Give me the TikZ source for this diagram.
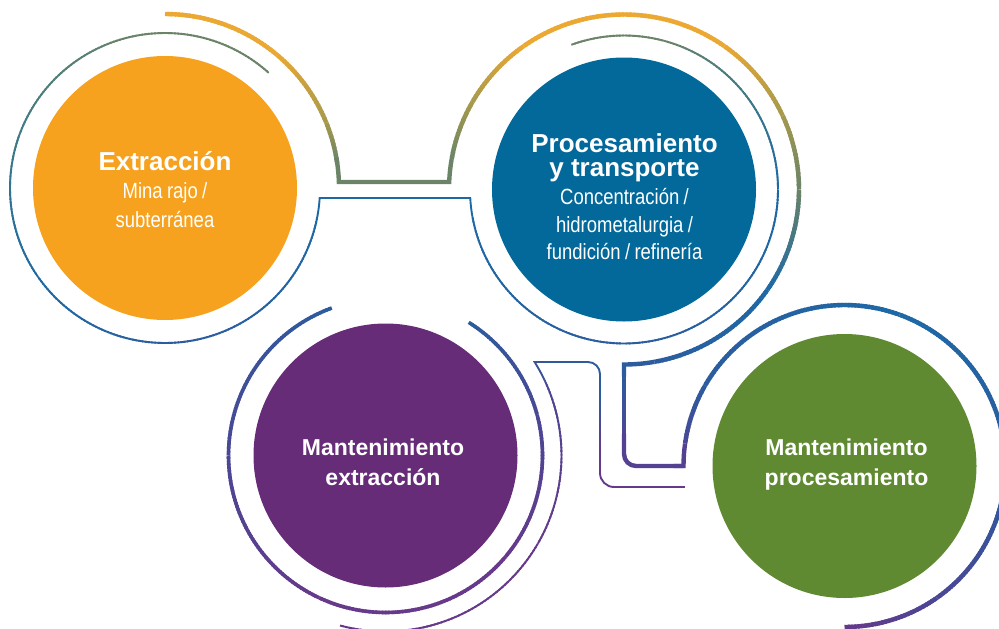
\documentclass[tikz,border=0pt]{standalone}
\usepackage{fontspec}
\setmainfont{Liberation Sans}
\newfontfamily\condfont[FakeStretch=0.84,WordSpace=0.85]{Liberation Sans}
\usetikzlibrary{calc}
\definecolor{cOrange}{HTML}{F6A21E}
\definecolor{cBlue}{HTML}{02699A}
\definecolor{cPurple}{HTML}{672C77}
\definecolor{cGreen}{HTML}{608A32}
\definecolor{lGold}{HTML}{EBA833}
\definecolor{lOlive}{HTML}{A69A4C}
\definecolor{lGrey}{HTML}{6B8467}
\definecolor{lTeal}{HTML}{3F7A85}
\definecolor{lBlue}{HTML}{1D69A6}
\definecolor{lDark}{HTML}{2C5C9E}
\definecolor{lBP}{HTML}{4A4795}
\definecolor{lPur}{HTML}{66398A}
% gradient arc: center, radius, start, end, colour1, colour2, width
\newcommand\garc[7]{%
  \pgfmathtruncatemacro\gN{max(2,abs((#4)-(#3))/1.2)}%
  \pgfmathsetmacro\gS{((#4)-(#3))/\gN}%
  \foreach \k in {1,...,\gN}{%
    \pgfmathsetmacro\ga{(#3)+(\gS)*(\k-1)-(\k>1)*0.5*(\gS)}%
    \pgfmathsetmacro\gb{(#3)+(\gS)*\k}%
    \pgfmathtruncatemacro\gp{100*(\k-0.5)/\gN}%
    \draw[line width=#7, color=#6!\gp!#5] ($(#1)+(\ga:#2pt)$) arc[start angle=\ga, end angle=\gb, radius=#2pt];
  }%
}
% gradient straight line: from, to, colour1, colour2, width
\newcommand\gline[5]{%
  \foreach \k in {1,...,20}{%
    \pgfmathsetmacro\ta{(\k-1)/20-(\k>1)*0.02}%
    \pgfmathsetmacro\tb{\k/20}%
    \pgfmathtruncatemacro\gp{100*(\k-0.5)/20}%
    \draw[line width=#5, color=#4!\gp!#3] ($(#1)!\ta!(#2)$) -- ($(#1)!\tb!(#2)$);
  }%
}
\tikzset{
  disc/.style={circle, inner sep=0pt, minimum size=264pt},
  head/.style={text=white, anchor=base, font=\fontsize{26}{26}\selectfont\bfseries},
  headm/.style={text=white, anchor=base, font=\fontsize{23}{23}\selectfont\bfseries},
  subt/.style={text=white, anchor=base, font=\condfont\fontsize{22}{22}\selectfont},
  thk/.style={line width=4.4pt},
  thn/.style={line width=1.9pt},
}
\begin{document}
\begin{tikzpicture}[x=1pt,y=1pt]
\useasboundingbox (0,0) rectangle (999,-629);
\clip (0,0) rectangle (999,-629);

% discs
\node[disc, fill=cOrange] (O) at (165,-188) {};
\node[disc, fill=cBlue] (B) at (624,-189.5) {};
\node[disc, fill=cPurple] (P) at (385.5,-455.5) {};
\node[disc, fill=cGreen] (G) at (844.5,-466) {};

% texts
\node[head] (o1) at (165,-170) {Extracción};
\node[subt] (o2) at (165,-198) {Mina rajo /};
\node[subt] (o3) at (165,-227) {subterránea};
\node[head] (b1) at (624.5,-152) {Procesamiento};
\node[head] (b2) at (624.5,-176) {y transporte};
\node[subt] (b3) at (624.5,-204) {Concentración /};
\node[subt] (b4) at (624.5,-232) {hidrometalurgia /};
\node[subt] (b5) at (624.5,-259) {fundición / refinería};
\node[headm] (p1) at (383,-455) {Mantenimiento};
\node[headm] (p2) at (383,-485) {extracción};
\node[headm] (g1) at (846.5,-455) {Mantenimiento};
\node[headm] (g2) at (846.5,-485) {procesamiento};

% ---------- thick line A ----------
\garc{O}{174}{90}{50}{lGold}{lGold}{4.4pt}
\garc{O}{174}{50}{22}{lGold}{lOlive}{4.4pt}
\garc{O}{174}{22}{8}{lOlive}{lGrey}{4.4pt}
\coordinate (a1) at ($(O)+(1.976:174pt)$);
\coordinate (a2) at ($(B)+(177.54:175pt)$);
\draw[thk, lGrey] ($(O)+(10:174pt)$) arc[start angle=10, end angle=1.976, radius=174pt] -- (a2) arc[start angle=177.54, end angle=170, radius=175pt];
\garc{B}{175}{170}{150}{lGrey}{lOlive}{4.4pt}
\garc{B}{175}{150}{125}{lOlive}{lGold}{4.4pt}
\garc{B}{175}{125}{55}{lGold}{lGold}{4.4pt}
\garc{B}{175}{55}{25}{lGold}{lOlive}{4.4pt}
\garc{B}{175}{25}{0}{lOlive}{lGrey}{4.4pt}
\garc{B}{175}{0}{-35}{lGrey}{lBlue}{4.4pt}
\garc{B}{175}{-35}{-80}{lBlue}{lDark}{4.4pt}
\coordinate (a3) at ($(B)+(-90:175pt)$);
\coordinate (a3b) at ($(a3)+(0,-10)$);
\coordinate (a3c) at ($(a3)+(0,-70)$);
\coordinate (a5) at ($(G)+(180:161pt)$);
\coordinate (a4) at (a3 |- a5);
\draw[thk, lDark] ($(B)+(-80:175pt)$) arc[start angle=-80, end angle=-90, radius=175pt] -- ($(a3)+(0,-12)$);
\gline{a3b}{a3c}{lDark}{lBP}{4.4pt}
\draw[thk, lBP!60!lPur, rounded corners=12pt] ($(a3c)+(0,1)$) -- (a4) -- (a5);
\draw[thk, lBP!60!lPur] ($(a5)+(-10,0)$) -- (a5) arc[start angle=180, end angle=172, radius=161pt];
\garc{G}{161}{172}{150}{lBP}{lDark}{4.4pt}
\garc{G}{161}{150}{70}{lDark}{lBlue}{4.4pt}
\garc{G}{161}{70}{0}{lBlue}{lDark}{4.4pt}
\garc{G}{161}{0}{-55}{lDark}{lBP}{4.4pt}
\garc{G}{161}{-55}{-90}{lBP}{lPur}{4.4pt}

% ---------- thin line B ----------
\garc{O}{155}{48}{100}{lGrey}{lGrey}{1.9pt}
\garc{O}{155}{100}{160}{lGrey}{lTeal}{1.9pt}
\garc{O}{155}{160}{215}{lTeal}{lBlue}{1.9pt}
\garc{O}{155}{215}{280}{lBlue}{lDark}{1.9pt}
\garc{O}{155}{280}{350}{lDark}{lBlue}{1.9pt}
\coordinate (b6) at ($(O)+(356.3:155pt)$);
\coordinate (b7) at ($(B)+(183.16:154pt)$);
\draw[thn, lBlue] ($(O)+(350:155pt)$) arc[start angle=350, end angle=356.3, radius=155pt] -- (b7) arc[start angle=183.16, end angle=190, radius=154pt];
\garc{B}{154}{190}{270}{lBlue}{lDark}{1.9pt}
\garc{B}{154}{270}{360}{lDark}{lBlue}{1.9pt}
\garc{B}{154}{360}{400}{lBlue}{lTeal}{1.9pt}
\garc{B}{154}{400}{435}{lTeal}{lGrey}{1.9pt}
\garc{B}{154}{435}{470}{lGrey}{lGrey}{1.9pt}

% ---------- purple inner ring C ----------
\garc{P}{157}{110}{180}{lDark}{lBP}{3.6pt}
\garc{P}{157}{180}{245}{lBP}{lPur}{3.6pt}
\garc{P}{157}{245}{320}{lPur}{lPur}{3.6pt}
\garc{P}{157}{320}{375}{lPur}{lBP}{3.6pt}
\garc{P}{157}{375}{418}{lBP}{lDark}{3.6pt}

% ---------- purple outer thin line D ----------
\garc{P}{176}{255}{330}{lPur}{lPur}{1.9pt}
\garc{P}{176}{330}{385}{lPur}{lBP}{1.9pt}
\coordinate (d1) at ($(P)+(32.09:176pt)$);
\coordinate (d2) at (600,-362);
\coordinate (d2b) at (600,-398);
\coordinate (d2c) at (600,-450);
\coordinate (d3) at (600,-487);
\coordinate (d4) at ($(G)+(187.49:161pt)$);
\draw[thn, lBP!50!lDark] ($(P)+(25:176pt)$) arc[start angle=25, end angle=32.09, radius=176pt] -- ($(d1)+(12,0)$);
\draw[thn, lDark, rounded corners=12pt] ($(d1)+(10,0)$) -- (d2) -- ($(d2b)+(0,-1)$);
\gline{d2b}{d2c}{lDark}{lPur}{1.9pt}
\draw[thn, lPur, rounded corners=14pt] ($(d2c)+(0,1)$) -- (d3) -- (d4);
\end{tikzpicture}
\end{document}
